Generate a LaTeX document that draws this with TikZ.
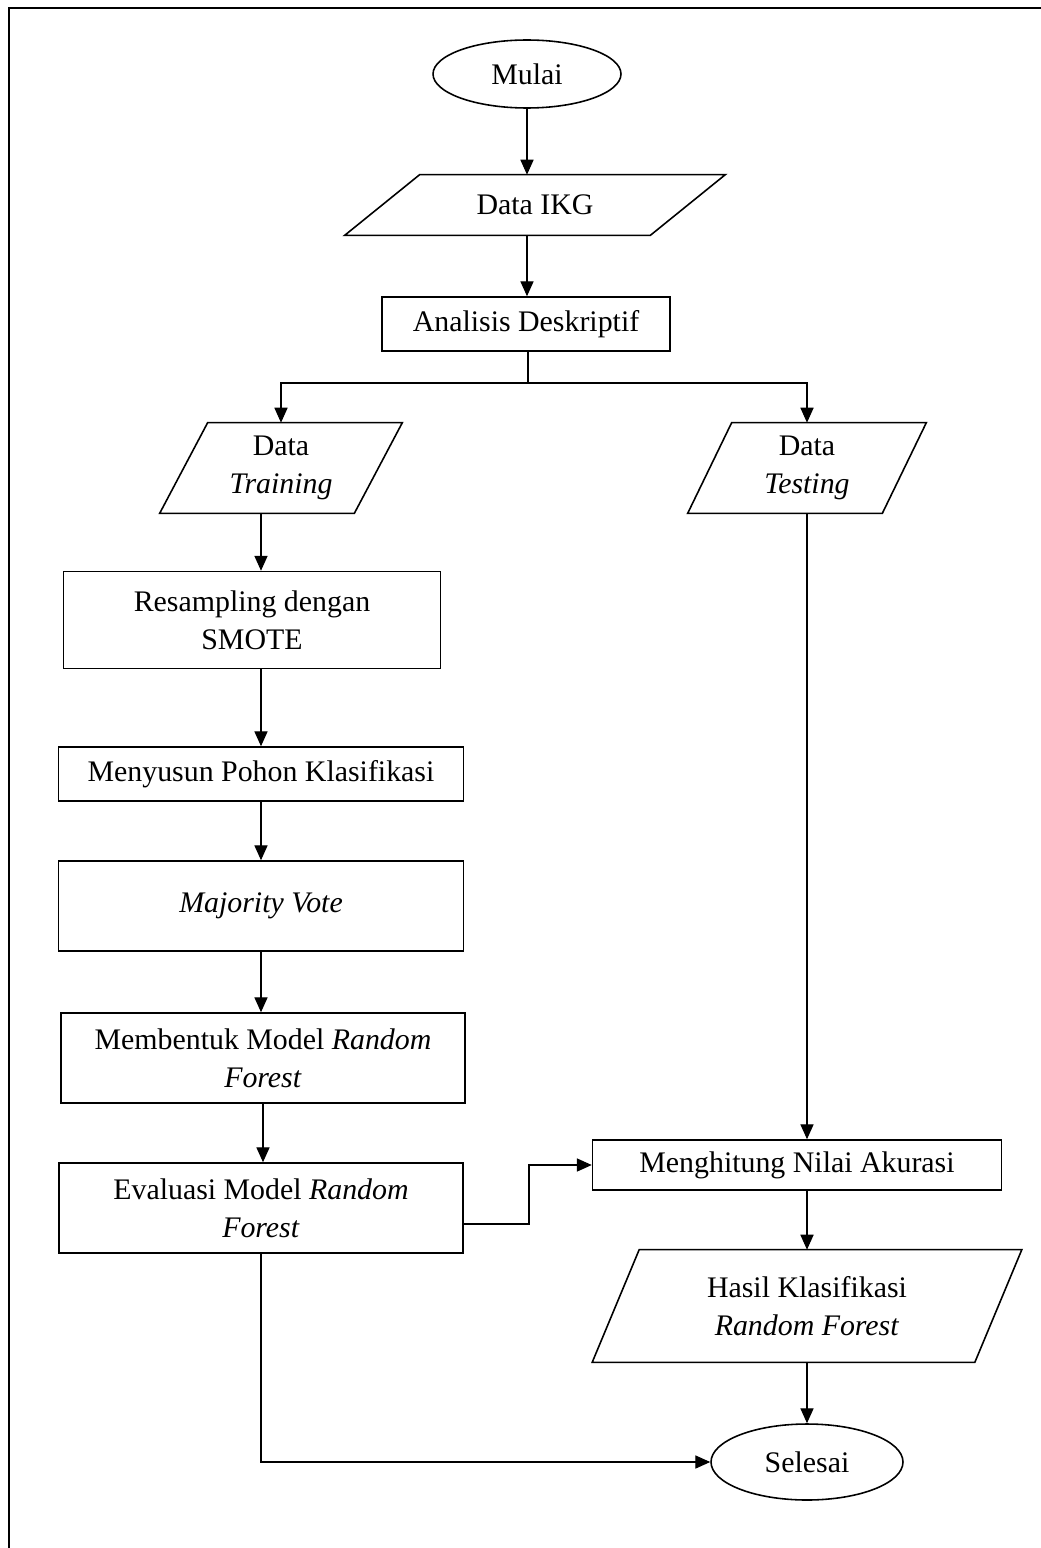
\documentclass[tikz,border=0pt]{standalone}
\usepackage{fontspec}
\setmainfont{Liberation Serif}
\usetikzlibrary{shapes.geometric,arrows.meta}
% jajaran genjang di sekeliling node #1, #2 = setengah kemiringan
\newcommand{\jajar}[2]{\draw[line width=0.9pt] ([xshift=#2]#1.north west) -- ([xshift=#2]#1.north east)
  -- ([xshift=-#2]#1.south east) -- ([xshift=-#2]#1.south west) -- cycle;}

\begin{document}
\begin{tikzpicture}[x=0.02cm,y=-0.02cm,
    font=\fontsize{17}{21.5}\selectfont,
    ujung/.style={draw,line width=0.9pt,ellipse,inner sep=0pt},
    proses/.style={draw,line width=0.9pt,rectangle,align=center,inner sep=2pt},
    masukan/.style={rectangle,align=center,inner sep=0pt},
    panah/.style={line width=0.6pt,-{Triangle[length=8.5pt,width=7.5pt]}}]
  \useasboundingbox (0,0) rectangle (1041,1548);
  \draw[line width=1.1pt] (9,1548) -- (9,8) -- (1041,8);

  \node[ujung,minimum width=3.76cm,minimum height=1.36cm] (mulai) at (527,74) {Mulai};
  \node[masukan,minimum width=6.1cm,minimum height=1.2cm] (ikg) at (535,205) {Data IKG};
  \node[proses,minimum width=5.76cm,minimum height=1.08cm] (analisis) at (526,324) {Analisis Deskriptif};

  \node[masukan,minimum width=3.88cm,minimum height=1.8cm] (train) at (281,468) {Data\\\textit{Training}};
  \node[masukan,minimum width=3.88cm,minimum height=1.8cm] (test) at (807,468) {Data\\\textit{Testing}};

  \node[proses,minimum width=7.54cm,minimum height=1.94cm] (resamp) at (252,620) {Resampling dengan\\SMOTE};
  \node[proses,minimum width=8.1cm,minimum height=1.08cm] (susun) at (261,774) {Menyusun Pohon Klasifikasi};
  \node[proses,minimum width=8.1cm,minimum height=1.8cm] (major) at (261,906) {\textit{Majority Vote}};
  \node[proses,minimum width=8.08cm,minimum height=1.8cm] (bentuk) at (263,1058) {Membentuk Model \textit{Random}\\\textit{Forest}};
  \node[proses,minimum width=8.08cm,minimum height=1.8cm] (eval) at (261,1208) {Evaluasi Model \textit{Random}\\\textit{Forest}};

  \node[proses,minimum width=8.18cm,minimum height=1.0cm] (hitung) at (797,1165) {Menghitung Nilai Akurasi};
  \node[masukan,minimum width=7.64cm,minimum height=2.24cm] (hasil) at (807,1306) {Hasil Klasifikasi\\\textit{Random Forest}};
  \node[ujung,minimum width=3.84cm,minimum height=1.52cm] (selesai) at (807,1462) {Selesai};

  \jajar{ikg}{0.75cm}
  \jajar{train}{0.48cm}
  \jajar{test}{0.44cm}
  \jajar{hasil}{0.47cm}

  % alur utama
  \coordinate (cabang) at (528,383);
  \coordinate (belok) at (529,1224);
  \draw[panah] (mulai.south) -- (mulai.south |- ikg.north);
  \draw[panah] (mulai.south |- ikg.south) -- (mulai.south |- analisis.north);
  \draw[line width=0.6pt] (analisis.south -| cabang) -- (cabang);
  \draw[panah] (cabang) -| (train.north);
  \draw[panah] (cabang) -| (test.north);
  \draw[panah] (susun.north |- train.south) -- (susun.north |- resamp.north);
  \draw[panah] (susun.north |- resamp.south) -- (susun.north);
  \draw[panah] (susun.south) -- (major.north);
  \draw[panah] (major.south) -- (major.south |- bentuk.north);
  \draw[panah] (bentuk.south) -- (bentuk.south |- eval.north);
  \draw[panah] (eval.east |- belok) -- (belok) |- (hitung.west);
  \draw[panah] (test.south) -- (test.south |- hitung.north);
  \draw[panah] (hasil.north |- hitung.south) -- (hasil.north);
  \draw[panah] (hasil.south) -- (selesai.north);
  \draw[panah] (eval.south) |- (selesai.west);
\end{tikzpicture}
\end{document}
